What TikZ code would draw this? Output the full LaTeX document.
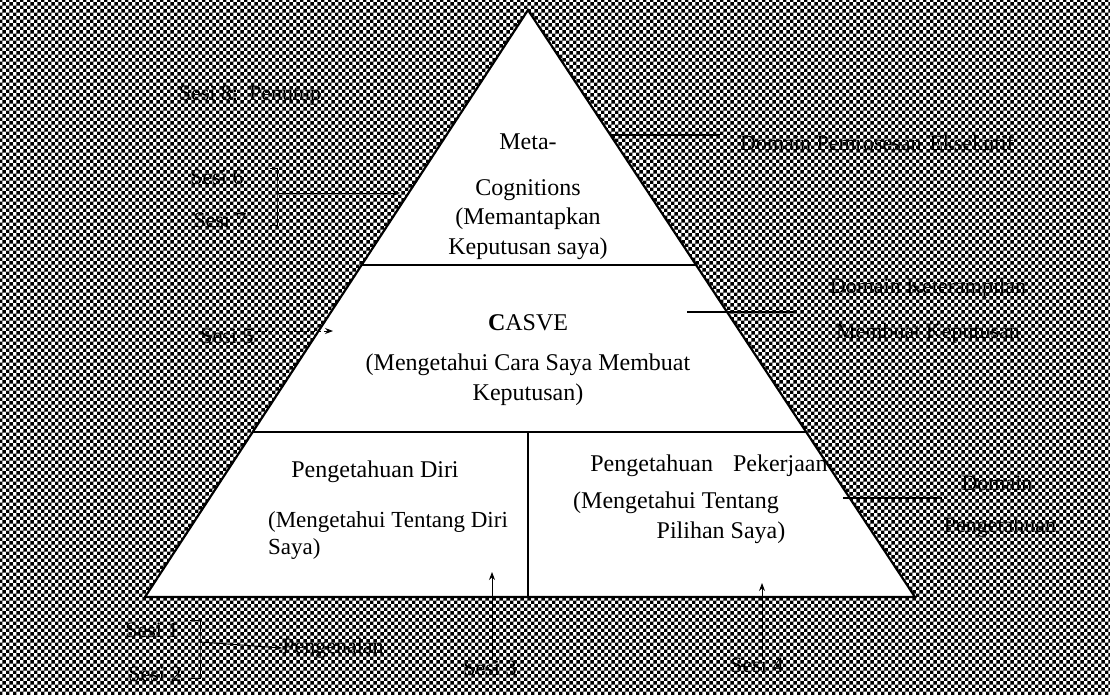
\documentclass[tikz,border=0pt]{standalone}
\usepackage{fontspec}
\setmainfont{Liberation Serif}
\usetikzlibrary{patterns,arrows.meta,calc}
\pgfdeclarepatternformonly{checker}{\pgfpointorigin}{\pgfpoint{7.4pt}{7.4pt}}{\pgfpoint{7.4pt}{7.4pt}}{%
 \pgfpathrectangle{\pgfpointorigin}{\pgfpoint{3.7pt}{3.7pt}}%
 \pgfpathrectangle{\pgfpoint{3.7pt}{3.7pt}}{\pgfpoint{3.7pt}{3.7pt}}%
 \pgfusepath{fill}}
\tikzset{
  intext/.style={font=\fontsize{24}{30}\selectfont, inner sep=0pt, align=center},
  outtext/.style={font=\fontsize{22}{27}\selectfont, inner sep=0pt, align=center},
  domline/.style={line width=2pt},
  sesiarrow/.style={line width=0.9pt, -{Stealth[length=8pt,width=6pt]}},
  frame/.style={line width=2.2pt, line join=miter}
}
\begin{document}
\begin{tikzpicture}[x=1pt,y=-1pt]
\useasboundingbox (0,0) rectangle (1110,694);
\fill[white] (0,0) rectangle (1110,694);
\fill[pattern=checker, pattern color=black] (0,0) rectangle (1110,694);

% triangle
\coordinate (A) at (528,10);
\coordinate (BL) at (145,597);
\coordinate (BR) at (915,597);
\draw[frame, fill=white] (A) -- (BL) -- (BR) -- cycle;
\coordinate (L1) at ($(A)!0.4344!(BL)$);
\coordinate (R1) at ($(A)!0.4344!(BR)$);
\coordinate (L2) at ($(A)!0.7189!(BL)$);
\coordinate (R2) at ($(A)!0.7189!(BR)$);
\coordinate (M2) at (528,432);
\coordinate (M3) at (528,597);
\draw[frame] (L1) -- (R1);
\draw[frame] (L2) -- (R2);
\draw[frame] (M2) -- (M3);

% inner texts
\node[intext] (meta) at (528,142) {Meta-};
\node[intext] (cog) at (528,190) {Cognitions};
\node[intext] (mem) at (528,234) {(Memantapkan\\Keputusan saya)};
\node[intext] (casve) at (528,323) {\textbf{C}ASVE};
\node[intext] (cara) at (528,380) {(Mengetahui Cara Saya Membuat\\Keputusan)};
\node[intext] (pdiri) at (375,472) {Pengetahuan Diri};
\node[intext, align=left, font=\fontsize{23}{27}\selectfont] (tdiri) at (388,535) {(Mengetahui Tentang Diri\\Saya)};
\node[intext] (pkerja) at (709,466) {Pengetahuan\hspace{20pt}Pekerjaan};
\node[intext] (tpilih) at (676,503) {(Mengetahui Tentang};
\node[intext] (pilih) at (721,533) {Pilihan Saya)};

% domain labels
\coordinate (d1a) at (611,135);
\coordinate (d1b) at (720,135);
\draw[domline] (d1a) -- (d1b);
\node[outtext, anchor=west] (dom1) at (740,143) {Domain Pemrosesan\hspace{8pt}Eksekutif};

\coordinate (d2a) at (687,312);
\coordinate (d2b) at (797,312);
\draw[domline] (d2a) -- (d2b);
\node[outtext] (dom2a) at (928,288) {Domain Keterampilan};
\node[outtext] (dom2b) at (928,333) {Membuat Keputusan};

\coordinate (d3a) at (843,497.5);
\coordinate (d3b) at (942,497.5);
\draw[domline] (d3a) -- (d3b);
\node[outtext] (dom3a) at (997,483) {Domain};
\node[outtext] (dom3b) at (1000,527) {Pengetahuan};

% sessions
\node[outtext] (s8) at (250,96) {Sesi 8:\, Penutup};
\node[outtext] (s6) at (217,177) {Sesi 6};
\node[outtext] (s7) at (220,220) {Sesi 7};
\coordinate (b67t) at (270,168);
\coordinate (b67m) at (277,193);
\coordinate (b67b) at (270,225);
\draw[line width=0.9pt] (b67t) -| (b67m) |- (b67b);
\coordinate (t67) at (400,193);
\draw[sesiarrow] (b67m) -- (t67);

\node[outtext] (s5) at (227,336) {Sesi 5};
\coordinate (t5) at (333,331);
\draw[sesiarrow, dashed] (s5.east |- t5) ++(4,0) coordinate (s5e) (s5e) -- (t5);

\node[outtext] (s3) at (490,668) {Sesi 3};
\coordinate (t3) at (492,572);
\draw[sesiarrow] (s3.north -| t3) -- (t3);

\node[outtext] (s4) at (757,665) {Sesi 4};
\coordinate (t4) at (762,583);
\draw[sesiarrow] (s4.north -| t4) -- (t4);

\node[outtext] (s1) at (152,630) {Sesi 1};
\node[outtext] (s2) at (155,674) {Sesi 2};
\coordinate (b12t) at (190,620);
\coordinate (b12m) at (200,642);
\coordinate (b12b) at (190,678);
\draw[line width=0.9pt] (b12t) -| (b12m) |- (b12b);
\node[outtext] (peng) at (333,648) {Pengenalan};
\draw[sesiarrow] (b12m) -- (peng.west);
\end{tikzpicture}
\end{document}
